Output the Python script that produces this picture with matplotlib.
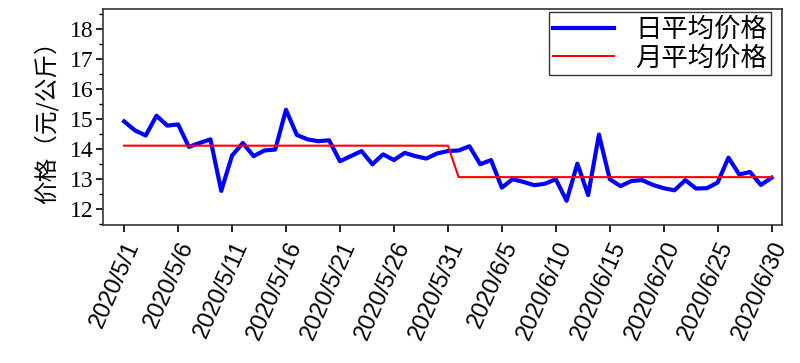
import matplotlib
matplotlib.use("Agg")
import matplotlib.pyplot as plt
from matplotlib.ticker import MultipleLocator, FixedLocator
import numpy as np

dates = [f"2020/5/{d}" for d in range(1, 32)] + [f"2020/6/{d}" for d in range(1, 31)]
daily_price = [14.93, 14.63, 14.46, 15.12, 14.79, 14.83, 14.08, 14.21, 14.33, 12.61,
               13.79, 14.21, 13.77, 13.96, 13.99, 15.32, 14.48, 14.33, 14.27, 14.30,
               13.60, 13.77, 13.94, 13.50, 13.83, 13.64, 13.88, 13.77, 13.69, 13.86,
               13.94,
               13.96, 14.10, 13.50, 13.64, 12.72, 13.00, 12.91, 12.80, 12.85, 13.00,
               12.28, 13.52, 12.47, 14.49, 13.00, 12.77, 12.94, 12.97, 12.81, 12.70,
               12.63, 12.97, 12.69, 12.70, 12.89, 13.72, 13.16, 13.24, 12.81, 13.05]
month_days = [31, 30]
month_avg = [14.12, 13.07]
monthly_price = [v for v, n in zip(month_avg, month_days) for _ in range(n)]

tick_step = 5
cjk = ["Noto Sans CJK SC", "DejaVu Sans"]

fig = plt.figure(figsize=(8, 3.63), dpi=100)
ax = fig.add_axes([0.129, 0.38, 0.849, 0.595])
x = np.arange(len(dates))
ax.plot(x, daily_price, color="#0000ff", lw=3.0, label="日平均价格")
ax.plot(x, monthly_price, color="#ff0000", lw=1.5, label="月平均价格")

ax.set_xlim(-1.94, 61.0)
ax.set_ylim(11.47, 18.68)
ax.yaxis.set_major_locator(MultipleLocator(1))
ax.yaxis.set_minor_locator(MultipleLocator(0.5))
ticks = list(range(0, len(dates), tick_step))
ax.xaxis.set_major_locator(FixedLocator(ticks))
ax.set_xticklabels([dates[i] for i in ticks], rotation=66, ha="right", va="top",
                   rotation_mode="anchor", fontsize=17, family="Liberation Sans")
ax.tick_params(axis="x", which="major", direction="out", length=5, width=1.2, pad=4)
ax.tick_params(axis="y", which="major", direction="out", length=5, width=1.2, pad=2)
ax.tick_params(axis="y", which="minor", direction="out", length=3, width=1.0)
for lab in ax.get_yticklabels():
    lab.set_family("Liberation Serif")
    lab.set_fontsize(17)
for s in ax.spines.values():
    s.set_linewidth(1.2)
    s.set_color("#333333")

ax.set_ylabel("价格（元/公斤）", family=cjk, fontsize=17, labelpad=8)

leg = ax.legend(loc="upper right", bbox_to_anchor=(0.983, 0.986), borderaxespad=0,
                prop={"family": cjk, "size": 19}, frameon=True, fancybox=False,
                handlelength=2.3, handletextpad=0.8, labelspacing=0.05,
                borderpad=0.15)
leg.get_frame().set_edgecolor("black")
leg.get_frame().set_linewidth(1.0)

fig.savefig("out.png", dpi=100)
